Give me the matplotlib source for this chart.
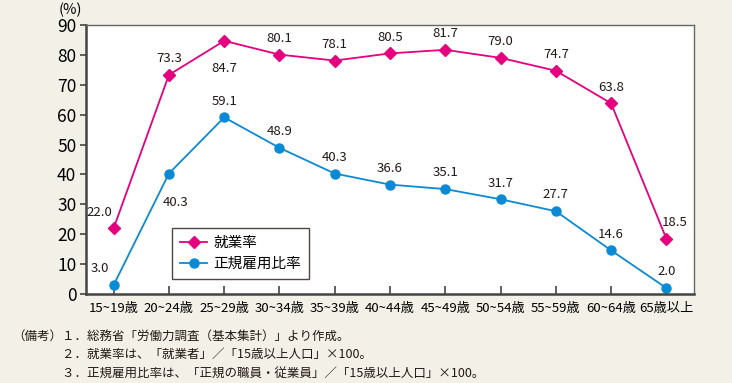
import matplotlib.pyplot as plt

plt.rcParams['font.family'] = ['Noto Sans CJK JP', 'DejaVu Sans']

# ---------- Data ----------
age_groups = ["15~19歳", "20~24歳", "25~29歳", "30~34歳", "35~39歳", "40~44歳",
              "45~49歳", "50~54歳", "55~59歳", "60~64歳", "65歳以上"]
employment_rate = [22.0, 73.3, 84.7, 80.1, 78.1, 80.5, 81.7, 79.0, 74.7, 63.8, 18.5]
regular_ratio = [3.0, 40.3, 59.1, 48.9, 40.3, 36.6, 35.1, 31.7, 27.7, 14.6, 2.0]
notes = [
    "（備考）１．総務省「労働力調査（基本集計）」より作成。",
    "　　　　２．就業率は、「就業者」／「15歳以上人口」×100。",
    "　　　　３．正規雇用比率は、「正規の職員・従業員」／「15歳以上人口」×100。",
]

# label offsets in points (dx, dy)
emp_off = [(-10, 7), (0, 7), (0, -15), (0, 7), (0, 7), (0, 7), (0, 7), (0, 7), (0, 7), (0, 7), (6, 7)]
reg_off = [(-10, 7), (5, -16), (0, 7), (0, 7), (0, 7), (0, 7), (0, 7), (0, 7), (0, 7), (0, 7), (0, 7)]

PINK = "#e4007f"
BLUE = "#0a8ad4"
BG = "#f3f0e8"

fig = plt.figure(figsize=(7.32, 3.83), dpi=100, facecolor=BG)
ax = fig.add_axes([86 / 732, 1 - 294 / 383, 608 / 732, 269 / 383])
ax.set_facecolor("white")

x = list(range(len(age_groups)))
ax.plot(x, employment_rate, color=PINK, marker="D", markersize=6, lw=1.3, label="就業率")
ax.plot(x, regular_ratio, color=BLUE, marker="o", markersize=6.5, lw=1.3, label="正規雇用比率")

for xi, v, (dx, dy) in zip(x, employment_rate, emp_off):
    ax.annotate(f"{v:.1f}", (xi, v), xytext=(dx, dy), textcoords="offset points",
                ha="center", va="bottom" if dy > 0 else "top", fontsize=9.5, color="#231815")
for xi, v, (dx, dy) in zip(x, regular_ratio, reg_off):
    ax.annotate(f"{v:.1f}", (xi, v), xytext=(dx, dy), textcoords="offset points",
                ha="center", va="bottom" if dy > 0 else "top", fontsize=9.5, color="#231815")

ax.set_xlim(-0.5, len(age_groups) - 0.5)
ax.set_ylim(0, 90)
ax.set_yticks(range(0, 91, 10))
ax.set_xticks(x)
ax.set_xticklabels(age_groups, fontsize=9.5)
ax.tick_params(axis="y", direction="out", length=4, width=1.2, labelsize=12.5, color="#444444", pad=3)
ax.tick_params(axis="x", direction="in", length=6, width=1.2, color="#444444", pad=6)

for side in ["left", "bottom"]:
    ax.spines[side].set_linewidth(1.8)
    ax.spines[side].set_color("#444444")
for side in ["top", "right"]:
    ax.spines[side].set_linewidth(1.0)
    ax.spines[side].set_color("#666666")

fig.text(70 / 732, 1 - 10 / 383, "(%)", fontsize=10.5, ha="center", va="center")

leg = ax.legend(loc="lower left", bbox_to_anchor=(0.141, 0.056), borderaxespad=0,
                fontsize=10.5, frameon=True, fancybox=False, edgecolor="#231815",
                borderpad=0.55, handlelength=1.9, handletextpad=0.4, labelspacing=0.5)
leg.get_frame().set_linewidth(1.0)

for i, line in enumerate(notes):
    fig.text(12 / 732, 1 - (336 + i * 18.5) / 383, line, fontsize=9, ha="left", va="center",
             color="#231815")

fig.savefig("out.png", dpi=100, facecolor=BG)
